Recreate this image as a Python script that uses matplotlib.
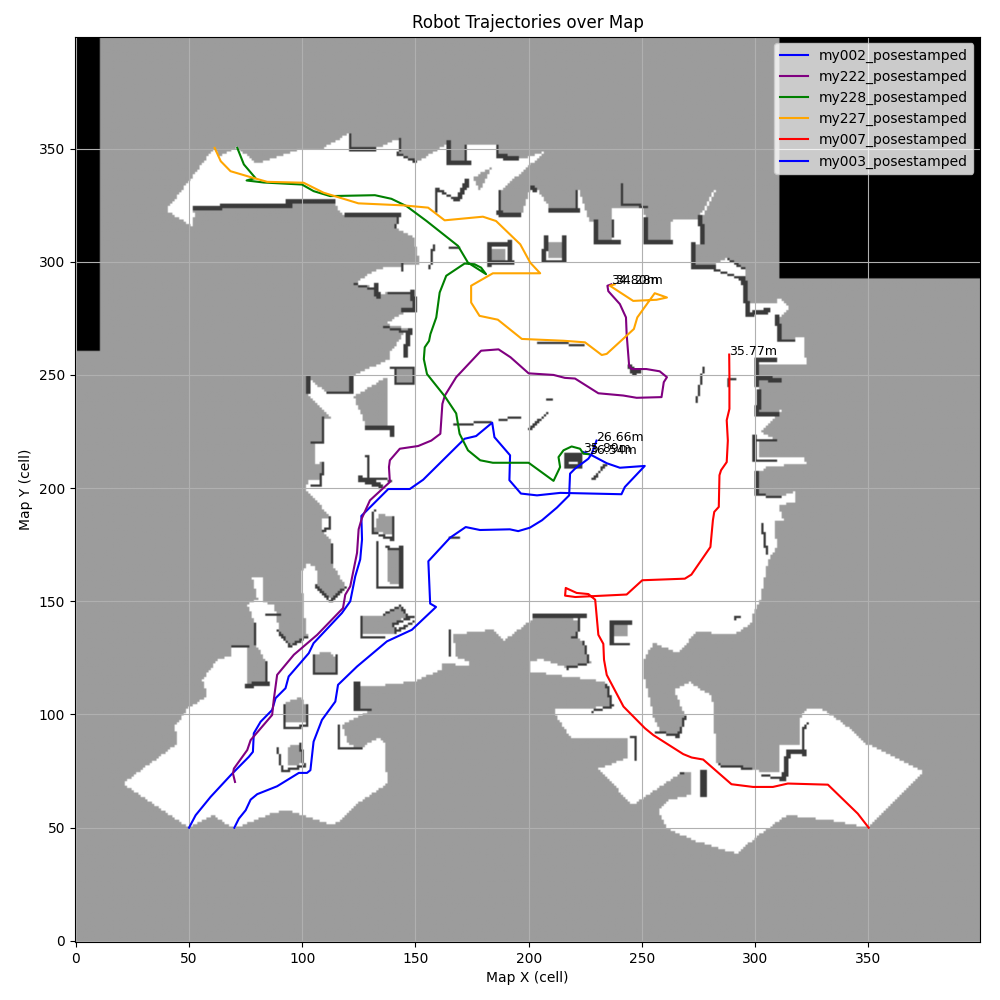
import numpy as np
import matplotlib
matplotlib.use("Agg")
import matplotlib.pyplot as plt
from matplotlib.path import Path

GRID_SIZE = 400

# free space outline, map cells
free_outline = [(39.7,322.4),(61.3,350.3),(63.2,346.6),(70.8,350),(71.5,350),(80,343),(99,349.6),(109,350),(120.4,356.5),
    (120.8,349),(130.6,349),(143,354.4),(142.4,347.4),(150.4,343.7),(163.6,351.8),(164.3,343.5),(171.7,343.5),(171.5,351),
    (174,351),(185.6,351),(186.3,346),(194.4,345),(197.8,345.2),(208,349.1),(187.1,331.2),(186.5,320.6),(196.3,319.5),
    (200.4,331.2),(202.9,332.7),(209.5,323.1),(220.5,322),(221,331.2),(222,331.2),(226.4,318),(229.3,317.3),(229.3,308.4),
    (236,308.4),(236.7,318),(236.7,323.6),(250.6,323.6),(251.3,318.7),(252,309.2),(262.3,309.2),(263,318),(271.1,318.7),
    (275.2,318.7),(275.5,320.2),(282,332),(283,332),(277,320.2),(277,307.7),(272.3,307),(272.3,296.7),(282,299),(288,301.5),
    (295.3,296.7),(296.8,281.3),(309,282),(310.7,284),(315,280),(311.4,275.4),(309,275.4),(310,266),(317.3,265),(318,266.6),
    (321.7,266.6),(322.1,254.8),(301.2,254.8),(301.2,231.6),(312.2,234.3),(302.6,224.7),(309.2,221.4),(301.2,221.1),
    (301.2,213),(321.7,213.4),(322.1,210.8),(304.8,209.3),(301.2,206.4),(301.2,196.8),(310.7,196.4),(318,198.3),(318,193.9),
    (310,192.4),(312.3,186),(308,184.7),(309.5,174),(305.7,168.5),(302,150.7),(299,144),(297.6,139.7),(290,135),(274,136.7),
    (266,127),(255,131.5),(250.7,124),(250.7,116.8),(255,99),(258,93),(265.4,90),(269,99),(264,111),(271,114),(280.8,108),
    (283,78.4),(297.6,75.4),(310,74),(310.9,86),(319.7,86.5),(319,97.6),(322.6,102),(330,102),(338.8,96),(349,87),(374,74.7),
    (350,50),(333,53.3),(313.8,55.5),(299.8,45.5),(291.8,38.5),(272.7,44.4),(261,49.6),(257,57.7),(261,62),(271.2,64.3),
    (272,74.2),(266.8,74),(245.5,60),(230.8,76),(243.3,80.6),(243.3,89.4),(218.4,89.4),(211,100.5),(211,102.7),(227.9,102.7),
    (236.7,104.2),(234.5,113),(233,114.5),(200,119),(200,122.7),(205,124.4),(216.9,120.5),(227.2,122.7),(224.2,131.5),
    (220.6,134.5),(222.8,141.9),(202.2,142.6),(196.3,138.2),(188.8,132.3),(183.6,137.4),(166.7,135.2),(167.5,125.6),
    (174,122.7),(174,121),(162.3,122.7),(160.9,119.7),(149.1,114.5),(130,112.3),(123.4,112.3),(122.7,102),(130,101.7),
    (117.5,95.3),(119.8,87.2),(125.6,85),(133,89.4),(135.9,88.7),(137.4,69.5),(124.2,60.6),(113.9,51),(93.3,57.7),(86,56.2),
    (69.8,49.6),(60.3,55.5),(50,50),(20.6,69.5),(44.9,87.2),(43.7,94.6),(49.3,102.7),(58,107.9),(55.9,115.3),(62.5,124.2),
    (68.4,125.6),(68.4,130.5),(75.7,130.5),(75.7,112.3),(84.5,113),(84.5,122.7),(78.9,131.2),(78.9,140.4),(75.7,148.5),
    (80.1,150.7),(77.9,160.3),(83,160.3),(83,149.3),(87.4,148.5),(89.6,137.4),(94.8,130),(102.1,134.5),(100.7,144.8),
    (99.2,162.6),(102.1,166.2),(105.8,165.5),(106.5,157.4),(112.4,150.7),(119,156.4),(113.1,166.2),(113.1,175.8),(108.7,181),
    (108.7,186.2),(112.4,187),(101.3,199.8),(102.8,203),(108,204),(108,211),(105.8,210.5),(105,218.9),(108.7,220.3),
    (108.7,230.6),(113,230.6),(102,241.6),(102,248),(103.5,248),(110.9,241.6),(120.4,241.6),(120.4,248),(121,248.9),
    (138.7,257),(138.7,260.7),(140,261.4),(144.6,268),(146.8,270.3),(136.5,272.4),(144.6,277.2),(149,278.3),(148.2,286.9),
    (137.2,286.4),(132.8,284.5),(132.1,288.6),(122.6,290.1),(132.1,296),(137.2,297.4),(151.9,298.9),(150.4,305.5),(149,310.6),
    (140.9,315),(142.4,319.2),(118.9,319.2),(113.8,325.6),(93.3,326),(93.3,323.1),(51.5,323.1),(52.5,320.6),(51,315.8)]

# unknown pockets inside the free space
unknown_holes = [
    [(175.4,337),(183.4,341.5),(178.3,331.2)],
    [(183,305.5),(189.4,305.5),(189.4,299.6),(183,299.6)],
    [(208,308.5),(214.2,308.5),(214.2,301),(208,301)],
    [(141,252.6),(149,252.6),(149,246),(141,246)],
    [(122.6,240.2),(137,249),(137.9,249),(137.2,226.2),(128.5,226.2)],
    [(133.7,189.1),(140,186.9),(140,178.8),(131.5,181)],
    [(137.4,173.6),(142.5,172.9),(142.5,157.5),(137.4,158.2)],
    [(126.4,143.4),(136,144),(143.2,147.8),(146.1,143.4),(140.3,140.4),(140.3,136),(136,135.2),(127,135.2)],
    [(105,126.4),(110.9,127.8),(114.6,125.6),(114.6,118.2),(105,118.2)],
    [(92.6,105),(99.2,107.9),(101.8,103.5),(101.8,96),(92.6,96)],
    [(93.3,85.7),(99.2,87.2),(100,78.4),(93.3,77)],
    [(236.3,139.2),(244,139.2),(244,134.5),(236.3,134.5)],
]

# occupied cells as (thickness, polyline)
walls = [
    (2,[(52,322.8),(63.2,322.8),(64,323.9),(94,323.6),(93.3,326),(113,325.8)]),
    (2,[(119,319.5),(142.4,319.8)]),(1,[(142.4,319.8),(141,315)]),
    (1,[(120.8,356.5),(120.8,349)]),(2,[(120.8,349),(130.6,349)]),
    (1,[(143.1,354.4),(142.4,347.4),(150.4,343.7)]),
    (2,[(163.7,351.8),(164,343.2),(173.2,343.2)]),(1,[(171.7,351),(172.4,343.7)]),
    (1,[(185.6,351),(186.4,345.9)]),(2,[(186.4,345.9),(194.4,344.7)]),
    (2,[(172.4,334.9),(168,326.8)]),(1,[(168,326.8),(159.2,332)]),(1,[(159.2,332),(159.2,322.4)]),
    (1,[(187.1,331.2),(186.4,320.6)]),(2,[(186.4,320.6),(195.2,319.5)]),
    (1,[(157.8,307),(156.3,297.4)]),(1,[(165.1,306.5),(168.8,305.5)]),
    (2,[(181.5,307),(190.6,307.5),(191.5,299),(182,298.5),(181.8,307)]),
    (1,[(143.8,298.6),(143.8,296)]),
    (1,[(122.6,290.1),(130.6,287.9)]),(2,[(132.1,288.6),(132.6,284.2)]),
    (1,[(138,286.4),(148.2,286.4)]),(2,[(148.2,286.4),(149,277.6),(143.8,278.3)]),
    (1,[(135.8,271),(146.8,268.8)]),(2,[(146.8,268.8),(144.6,258.5)]),
    (1,[(138.7,253.4),(149,252.6),(149,245.6),(141,246),(141,252)]),
    (2,[(102,248.2),(102,241.6)]),(1,[(110.9,242.4),(120.8,242.4)]),(2,[(120.8,242.4),(120.8,248.2)]),
    (2,[(128.5,225.5),(138.7,225.5),(138.7,223.3)]),
    (1,[(108.7,230.6),(108.7,220.3),(103.5,220.3)]),
    (1,[(109,210.8),(108,201.2),(103.5,201)]),
    (1,[(166.6,227.7),(183.4,229.2)]),(1,[(187,229.9),(196,231.4)]),
    (1,[(128.5,214.5),(129.2,204.2),(138.7,203.4)]),(2,[(124.8,203.5),(133.6,200.5)]),
    (2,[(200.7,332),(202.2,331)]),
    (2,[(208.8,321.7),(220.9,322)]),(1,[(220.9,322),(221,331.2)]),
    (2,[(228.9,317.3),(228.6,307.7),(239.2,307.7)]),(1,[(237.4,318),(237,311.4)]),
    (1,[(241,334.1),(241,325.3),(252,324.2)]),
    (2,[(250.6,318),(251.3,308.4),(262.3,308.4)]),(2,[(275.2,318.7),(276.2,308)]),
    (2,[(272.3,307),(272.3,296.7),(281.4,296.7)]),(1,[(281.4,296.7),(293.8,292.3)]),
    (2,[(293.8,292.3),(295.3,287.2),(295.7,276.1),(304.8,277.6)]),
    (2,[(309.2,275.4),(310,265.1)]),(1,[(310,265.1),(317.3,265.1)]),
    (1,[(288,301.1),(294.6,296.7)]),
    (2,[(300.4,256.3),(300.4,244.6)]),(2,[(301.2,255.6),(308.5,255.6)]),(2,[(301.2,247.8),(310,247.2)]),
    (2,[(300.7,241.6),(300.4,231.6),(309.2,231.6)]),
    (2,[(299,222.5),(299.3,212.3)]),(1,[(300.4,221.4),(309.2,221.4)]),(1,[(300.4,212.3),(309.2,212.3)]),
    (2,[(300.4,206.4),(300.4,196.8)]),(1,[(300.4,196.8),(310.7,196.1)]),
    (1,[(277,253.4),(274,238)]),(1,[(288,248.2),(290.9,248.2)]),(1,[(288,248.2),(288,245.3)]),
    (2,[(244,253.4),(245.5,250.4),(248.4,251.2)]),
    (1,[(204.4,263.7),(224.2,263.4)]),(1,[(208,239.4),(210,239.4)]),
    (1,[(200,225.5),(208,233.1)]),(1,[(227.9,203.5),(233.7,210)]),
    (2,[(215.5,214.5),(222.5,214.5),(222.5,209),(215.5,209),(215.5,214.5)]),(3,[(216,211.5),(219,211.5)]),
    (2,[(207.3,310),(205.9,300.4)]),(1,[(205.9,300.4),(216.1,299.6)]),(2,[(215.4,310),(214.7,300.4)]),
    (1,[(112.4,186.9),(111.7,182.5),(108.7,181)]),(1,[(113.1,175.1),(113.1,167)]),
    (1,[(131.5,189.9),(131.2,180.3),(140.3,177),(140.3,186.9)]),
    (1,[(133.4,175.8),(133.4,155.9),(144,155.5)]),(1,[(137.4,173.6),(143.2,172.9)]),(2,[(143.2,172.9),(143,155.9)]),
    (1,[(125.6,143.4),(125.9,134.2),(135.9,134.5)]),
    (1,[(135.9,144.1),(143.2,147.8),(146.2,143.4)]),(1,[(149.1,143.4),(140.3,139.7),(141,136),(149.1,141.1)]),
    (1,[(105,126.4),(105,117.5),(115.3,117.5),(115,125.6)]),
    (1,[(91.9,104.2),(91.9,94.3),(102.1,94.6),(101.8,103.5)]),
    (1,[(88.9,85),(91.1,74.7),(100.7,77.2),(98.9,87.2)]),
    (1,[(116.1,94.6),(116.1,85)]),(1,[(116.1,85),(126.4,85)]),
    (3,[(122.7,112.3),(122.7,102.3)]),(1,[(122.7,102.3),(130.3,102)]),
    (1,[(165,136.7),(165,125.6)]),(1,[(165.3,178),(168.9,178)]),
    (1,[(105.8,156.6),(112.4,150),(119,156.4)]),(1,[(88.9,137.4),(94.8,130),(102.1,134.5)]),
    (1,[(83.8,144.5),(89.6,144.5)]),(1,[(78.9,140.4),(78.9,131.2)]),(1,[(69.1,130.5),(75.7,130.5)]),
    (1,[(84.5,122.7),(84.5,113)]),(2,[(84.5,113),(75,112.3)]),
    (2,[(201.8,142.6),(223.5,142.6)]),(1,[(222,141.6),(221.3,134.5),(219,134.5)]),
    (1,[(224.2,131.5),(226.4,122.7)]),(1,[(226.4,122.7),(216.9,120.5)]),
    (1,[(234.2,113),(236.7,103.5)]),(1,[(236.7,103.5),(227.9,101.3)]),
    (2,[(236,140.4),(236,130.8)]),(2,[(236,140.4),(244,140.1)]),(1,[(236,131.2),(244,131.2)]),
    (1,[(291,141.9),(291,143.4),(293.2,143.4)]),(1,[(302.8,184),(305,171.4)]),
    (1,[(247,90.5),(247,79.8)]),(1,[(244.8,90.5),(247,90.5)]),
    (1,[(256.5,92.4),(266,90.2),(269,99)]),(1,[(283.7,77.6),(297.6,76.1)]),
    (3,[(275.6,73.2),(275.6,63.9)]),(1,[(266.8,74),(268,74.5)]),
    (1,[(302.8,73.2),(312.3,71.3)]),(2,[(312.3,71.3),(313.8,82.8),(321.1,82.5)]),(1,[(321.1,82.5),(321.1,93.1),(322.9,96.1)]),
]

# trajectories
my002 = [(50,50),(52.9,55.5),(59.5,63.6),(68.4,73.2),(76.4,81.3),(78.2,83.5),(78.6,91.7),(81.6,96.8),(86.7,102),(88.2,107.2),
    (92.6,111.6),(94,116.8),(102.9,127.1),(105,131.5),(117.5,144.8),(121.2,150),(123.4,161),(125.6,168.5),(126.4,177.3),
    (126.1,187.7),(138,199.6),(147.5,199.6),(153.4,203.7),(171.7,221.8),(176.8,223),(183.9,228.9),(184.9,222.5),(191.8,214.5),
    (191.5,203.5),(196.6,197.6),(203.7,196.8),(214,197.9),(241,197.3),(242.5,200.5),(251.3,209.8),(240.3,209),(234.5,211),
    (227.9,214.5),(224.2,215.9)]
my222 = [(70.3,70.2),(69.4,73.9),(69.8,76.1),(75.7,84.3),(77.2,88.7),(86.7,99.8),(87.4,106.4),(88.9,117.5),(96.3,126.4),
    (106.6,135.2),(118,147),(119,152.9),(121.2,156.6),(124.2,171.4),(124.9,181.8),(126.3,186.6),(129.9,194.6),(138.7,202.7),
    (138.3,209.3),(138.7,212.3),(143.1,217.4),(151.2,218.6),(157,221),(161,224),(161.9,237.2),(163,240.9),(168,249),(179,260.7),
    (186.7,261.3),(192,257.8),(200,250.7),(211,250),(216,248.7),(220.5,248.4),(230.8,241.9),(241.8,240.9),(247.7,239.9),
    (258.7,240.2),(259.7,246.8),(261.1,249),(257.9,251.6),(252,252.6),(245.5,252.6),(244.4,254),(243.3,268),(243,275.4),
    (240.3,281.3),(235.2,287),(234.8,289.4),(236.5,290)]
my228 = [(71.3,350.3),(74.2,343),(79.3,337),(75.4,335.9),(83,335),(99.9,334.1),(105,331.2),(112.3,329),(132.1,329.4),(139.4,327.8),
    (146,324.6),(154.9,318),(168.8,307),(173.2,299.6),(181.2,294.5),(179,297.4),(176.1,298.9),(171.7,299.2),(163.6,293.8),
    (160.7,286.4),(159.2,275.4),(156.6,268),(156,265),(154.1,262.2),(153.7,257),(155.1,250.4),(163,240.5),(168,233),(169.5,224),
    (173.2,216.7),(178.6,212.3),(184.2,211.2),(200,211.2),(211,203.2),(213.9,209.3),(213.2,213.7),(215.4,216.7),(219,218.4),
    (222.7,217.4),(224.2,215.2),(226.5,215)]
my227 = [(61.3,350.3),(64,344.4),(68.3,340),(77.1,337.4),(84.5,335.3),(100.6,334.9),(109.4,330.5),(124.8,325.8),(144.6,324.9),
    (155.6,323.9),(162.9,318.3),(179.8,319.9),(185.6,318),(196.3,307.7),(200.7,299.6),(205.1,294.9),(184.2,294.9),(174.6,289.4),
    (174.6,282),(178.3,276.1),(186.4,274.4),(197,265.9),(215.4,265.1),(224.9,264.4),(232.3,258.8),(234.5,259.3),(246.5,270.3),
    (248,275.4),(255.7,286.1),(261.1,284.2),(256.5,283.2),(246.2,282.7),(235.9,289.4),(238,290)]
my007 = [(350.2,50),(345.4,56.2),(332.2,69),(314.5,69.5),(307.9,68),(299.1,68),(289.6,69.2),(277.1,80.1),(272,81),(268.3,82.5),
    (260.9,87.2),(255.1,90.9),(251.4,93.9),(241.9,103.5),(234.5,117.5),(233.3,124.2),(233,131.2),(230.8,135.2),(229.4,150.7),
    (226.4,153.2),(221.2,153.7),(216.4,155.9),(216.1,152.5),(220.6,151.9),(243.3,153),(250.2,159.3),(269,160),(271.9,161.8),
    (280.3,174),(281.4,185.8),(282,189.5),(284,191.7),(284.3,205.7),(285,207.9),(287.5,211.5),(288,221),(287.5,230),(288.7,235),
    (288.7,249),(288.6,259)]
my003 = [(70,50),(72,54),(75,57.7),(77.2,62.4),(80.1,64.8),(88.9,68.3),(98.5,74.2),(102.1,74.2),(103.6,75.4),(105,88),(108.7,97.6),
    (114.6,105.7),(115.8,113.1),(124.2,121.2),(133,128.6),(137.4,132.3),(148.4,137.4),(159.1,147.5),(156.5,149),(155.7,167.7),
    (165.3,178.1),(172.2,182.8),(178.5,181.5),(191.7,181.8),(195.4,181),(200.5,182.5),(205.9,185.8),(212.5,191.4),(217.9,196.8),
    (218.3,206.4),(220.5,208.6),(226.4,213),(227.9,215.2),(230,221)]

names = ["my002_posestamped","my222_posestamped","my228_posestamped","my227_posestamped","my007_posestamped","my003_posestamped"]
tracks = [my002,my222,my228,my227,my007,my003]
colors = ["blue","purple","green","orange","red","blue"]
distances = [35.89,34.80,36.54,34.28,35.77,26.66]

# build the occupancy image
grid = np.full((GRID_SIZE,GRID_SIZE),0.61)
yy,xx = np.mgrid[0:GRID_SIZE,0:GRID_SIZE]
cells = np.column_stack([xx.ravel(),yy.ravel()])
inside = Path(free_outline).contains_points(cells).reshape(grid.shape)
grid[inside] = 1.0
for hole in unknown_holes:
    grid[Path(hole).contains_points(cells).reshape(grid.shape)] = 0.61
for width,line in walls:
    for (x0,y0),(x1,y1) in zip(line[:-1],line[1:]):
        n = int(max(abs(x1-x0),abs(y1-y0))*2)+1
        for t in np.linspace(0,1,n+1):
            cx = int(round(x0+(x1-x0)*t))
            cy = int(round(y0+(y1-y0)*t))
            grid[cy:cy+width,cx:cx+width] = 0.23
grid[261:,:11] = 0.0
grid[293:,311:] = 0.0

fig,ax = plt.subplots(figsize=(10,10))
ax.imshow(grid,cmap='gray',origin='lower',vmin=0,vmax=1)
for name,track,color,dist in zip(names,tracks,colors,distances):
    pts = np.array(track)
    ax.plot(pts[:,0],pts[:,1],color=color,label=name)
    ax.text(pts[-1,0],pts[-1,1],f"{dist:.2f}m",fontsize=9)
ax.set_title("Robot Trajectories over Map")
ax.set_xlabel("Map X (cell)")
ax.set_ylabel("Map Y (cell)")
ax.grid(True)
ax.legend(loc='upper right')
fig.subplots_adjust(left=0.0745,right=0.9805,top=0.9635,bottom=0.058)
plt.savefig("out.png",dpi=100)
